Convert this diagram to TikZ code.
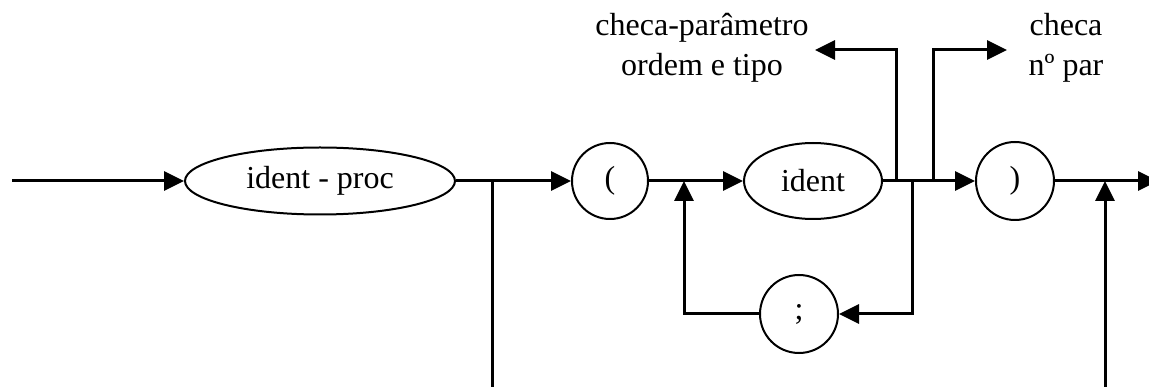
\documentclass[tikz,border=0pt]{standalone}
\usepackage{fontspec}
\setmainfont{Liberation Serif}
\usetikzlibrary{arrows.meta, positioning, shapes.geometric}

\begin{document}
\begin{tikzpicture}[x=1pt, y=-1pt, line width=3pt,
    >={Triangle[length=20pt, width=19pt]},
    every node/.style={font=\fontsize{32}{40}\selectfont},
    term/.style={draw, line width=2pt, inner sep=2pt}]
    \useasboundingbox (0,0) rectangle (1149,387);

    \node[term, ellipse, minimum width=270pt, minimum height=67pt] (ident proc) at (320,181) {ident - proc};
    \node[term, circle, minimum size=76pt, right=115pt of ident proc] (open par)  {(};
    \node[term, ellipse, minimum width=138pt, minimum height=76pt, right=94pt of open par] (ident) {ident};
    \node[term, circle, minimum size=78pt, right=92pt of ident]       (close par) {)};
    \node[term, circle, minimum size=78pt] at (799,314)               (semicolon) {;};

    \node[align=center] at (702,48)  (check order) {checa-parâmetro\\ordem e tipo};
    \node[align=center] at (1066,48) (check count) {checa\\nº par};

    \coordinate (start)    at (12,181);
    \coordinate (finish)   at (1158,181);
    \coordinate (skip out) at (492,181);
    \coordinate (loop in)  at (684,181);
    \coordinate (loop out) at (912,181);
    \coordinate (order)    at (896,181);
    \coordinate (count)    at (933,181);
    \coordinate (skip in)  at (1105,181);

    \draw[->] (start) -- (ident proc);
    \draw[->] (ident proc) -- (open par);
    \draw[->] (open par) -- (ident);
    \draw[->] (ident) -- (close par);
    \draw[->] (close par) -- (finish);

    % lista de parametros
    \draw[->] (loop out) |- (semicolon);
    \draw[->] (semicolon) -| (loop in);

    % acoes semanticas
    \draw[->] (order) |- (815,50);
    \draw[->] (count) |- (1007,50);

    % sem parametros
    \draw (skip out) -- (skip out |- 0,387);
    \draw[->] (skip in |- 0,387) -- (skip in);
\end{tikzpicture}
\end{document}
